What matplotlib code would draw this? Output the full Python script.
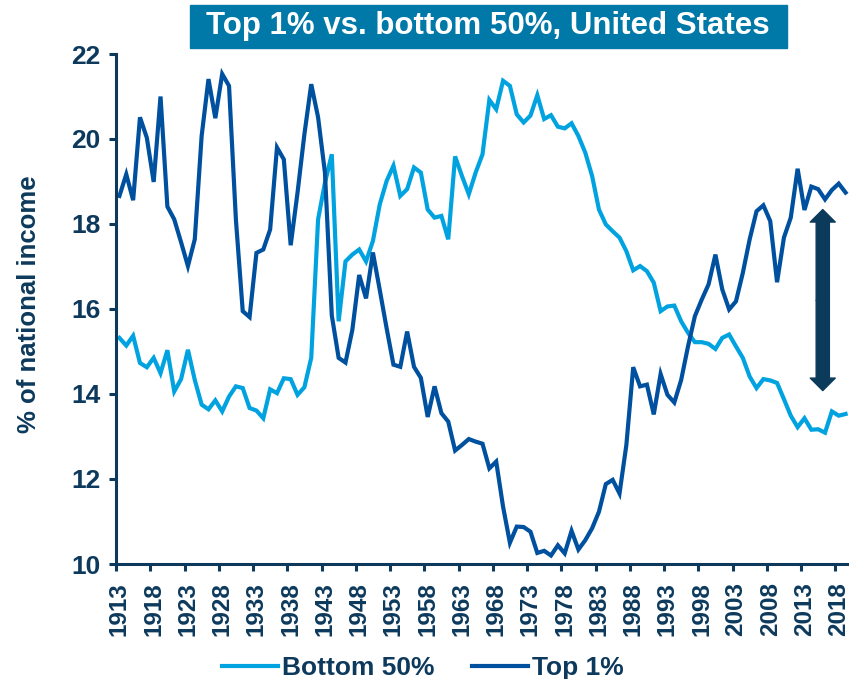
import numpy as np
import matplotlib
matplotlib.use("Agg")
import matplotlib.pyplot as plt
from matplotlib.patches import Rectangle, FancyArrowPatch, ArrowStyle

plt.rcParams['font.family'] = ['Liberation Sans', 'DejaVu Sans']
plt.rcParams['font.weight'] = 'bold'

years = np.arange(1913, 2020)

top1 = [18.66, 19.17, 18.56, 20.51, 20.03, 18.99, 21.00, 18.41, 18.11, 17.57,
        17.01, 17.64, 20.07, 21.41, 20.49, 21.53, 21.25, 18.11, 15.95, 15.81,
        17.32, 17.40, 17.87, 19.80, 19.52, 17.50, 18.74, 20.11, 21.29, 20.51,
        19.21, 15.85, 14.85, 14.74, 15.51, 16.80, 16.25, 17.33, 16.45, 15.55,
        14.69, 14.64, 15.47, 14.64, 14.38, 13.46, 14.18, 13.55, 13.35, 12.67,
        12.80, 12.94, 12.88, 12.83, 12.25, 12.41, 11.35, 10.50, 10.88, 10.87,
        10.76, 10.26, 10.31, 10.20, 10.44, 10.25, 10.78, 10.34, 10.56, 10.84,
        11.23, 11.88, 11.98, 11.66, 12.80, 14.63, 14.18, 14.22, 13.52, 14.47,
        13.98, 13.80, 14.33, 15.12, 15.83, 16.22, 16.58, 17.28, 16.46, 15.99,
        16.18, 16.85, 17.64, 18.30, 18.44, 18.07, 16.63, 17.68, 18.15, 19.30,
        18.33, 18.88, 18.82, 18.58, 18.80, 18.95, 18.74]

bottom50 = [15.32, 15.14, 15.37, 14.73, 14.63, 14.85, 14.49, 15.03, 14.06, 14.35,
            15.04, 14.33, 13.75, 13.64, 13.85, 13.59, 13.94, 14.18, 14.14, 13.67,
            13.61, 13.43, 14.11, 14.02, 14.37, 14.35, 13.98, 14.16, 14.85, 18.11,
            18.97, 19.64, 15.71, 17.12, 17.28, 17.40, 17.12, 17.60, 18.46, 19.01,
            19.37, 18.66, 18.82, 19.33, 19.21, 18.34, 18.15, 18.19, 17.64, 19.59,
            19.13, 18.70, 19.21, 19.64, 20.92, 20.70, 21.37, 21.25, 20.58, 20.39,
            20.55, 21.03, 20.47, 20.56, 20.29, 20.25, 20.37, 20.07, 19.68, 19.13,
            18.34, 17.99, 17.83, 17.68, 17.36, 16.91, 17.01, 16.89, 16.62, 15.95,
            16.06, 16.08, 15.71, 15.44, 15.22, 15.22, 15.18, 15.06, 15.32, 15.40,
            15.12, 14.85, 14.41, 14.14, 14.35, 14.32, 14.26, 13.88, 13.49, 13.22,
            13.43, 13.16, 13.17, 13.09, 13.59, 13.49, 13.53]

label_years = np.arange(1913, 2019, 5)

navy = '#0D3A5C'
light_blue = '#00A3E0'
dark_blue = '#0050A0'

fig = plt.figure(figsize=(8.49, 6.79), dpi=100)
ax = fig.add_axes([116 / 849, 115 / 679, 733 / 849, 510 / 679])

ax.plot(years, bottom50, color=light_blue, lw=3.0, label='Bottom 50%', solid_joinstyle='miter')
ax.plot(years, top1, color=dark_blue, lw=3.0, label='Top 1%', solid_joinstyle='miter')

# double-headed arrow marking the gap
style = ArrowStyle.Simple(head_length=9, head_width=18, tail_width=9.5)
for end in (18.34, 14.08):
    ax.add_patch(FancyArrowPatch((2015.67, 16.2), (2015.67, end), arrowstyle=style,
                                 mutation_scale=1, color='#0B3A5A', shrinkA=0, shrinkB=0,
                                 zorder=3))

ax.set_xlim(1912.5, 2019.5)
ax.set_ylim(10, 22)
ax.set_yticks(np.arange(10, 23, 2))

ax.set_xticks(label_years)
ax.set_xticklabels([str(y) for y in label_years], rotation=90, fontsize=17.5,
                   fontweight='bold', color=navy)
ax.set_xticks(np.arange(1912.5, 2019, 5), minor=True)
ax.tick_params(axis='x', which='major', length=0, pad=13)
ax.tick_params(axis='x', which='minor', length=5, width=2.2, color=navy, direction='out')
ax.tick_params(axis='y', length=5, width=2.2, color=navy, direction='out', pad=6,
               labelsize=19, labelcolor=navy)
for lab in ax.get_yticklabels():
    lab.set_fontweight('bold')

for side in ('top', 'right'):
    ax.spines[side].set_visible(False)
for side in ('left', 'bottom'):
    ax.spines[side].set_color(navy)
    ax.spines[side].set_linewidth(2.2)

ax.set_ylabel('% of national income', fontsize=18.5, fontweight='bold', color=navy)
ax.yaxis.set_label_coords(-0.102, 0.51)

# title box
fig.patches.append(Rectangle((190 / 849, 1 - 48 / 679), 597 / 849, 43 / 679,
                             transform=fig.transFigure, color='#0079A8', zorder=0))
fig.text(488 / 849, 1 - 26 / 679, 'Top 1% vs. bottom 50%, United States', color='white',
         fontsize=22.5, fontweight='bold', ha='center', va='center')

leg = fig.legend(loc='center', bbox_to_anchor=(0.498, 0.0165), ncol=2, frameon=False,
                 fontsize=19, handlelength=2.15, handletextpad=0.15, columnspacing=1.4)
for t in leg.get_texts():
    t.set_color(navy)
    t.set_fontweight('bold')
for h in leg.get_lines():
    h.set_linewidth(3.0)

fig.savefig('out.png', dpi=100)
